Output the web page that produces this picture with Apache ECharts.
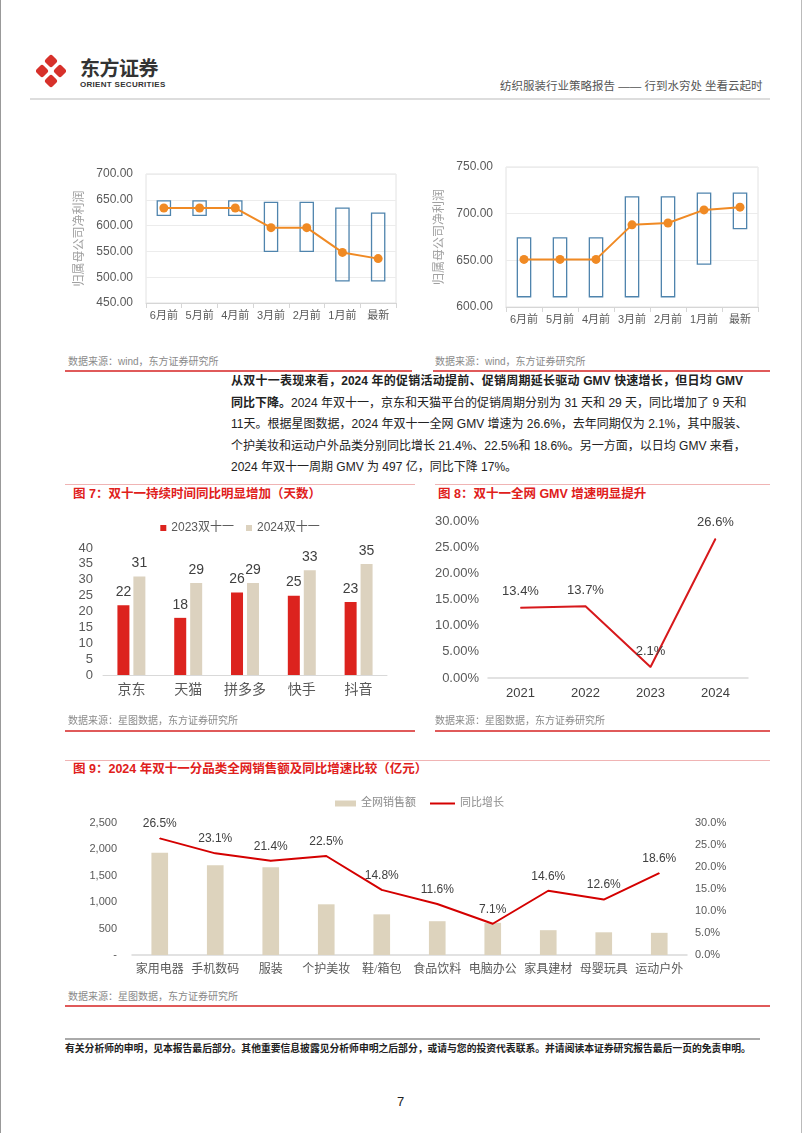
<!DOCTYPE html>
<html><head><meta charset="utf-8">
<script src="https://cdn.jsdelivr.net/npm/echarts@6/dist/echarts.min.js"></script>
<style>
html,body{margin:0;padding:0;background:#fff;}
body{width:802px;height:1133px;position:relative;overflow:hidden;font-family:"Liberation Sans","Noto Sans CJK SC",sans-serif;}
.t{position:absolute;white-space:nowrap;}
.ln{position:absolute;}
.ch{position:absolute;}
.src{font-size:10px;color:#8a8a8a;line-height:12px;}
.ttl{font-size:12.5px;color:#e0201b;font-weight:bold;line-height:15px;}
.para{position:absolute;left:231px;top:371px;width:512px;font-size:12px;line-height:21.5px;color:#222;}
.para div{white-space:nowrap;text-align:justify;text-align-last:justify;}
.para div.last{text-align-last:left;}
</style></head>
<body>
<div class="ln" style="left:0;top:0;width:1px;height:1133px;background:#999"></div>
<div class="ln" style="left:801px;top:0;width:1px;height:1133px;background:#bbb"></div>
<svg style="position:absolute;left:36px;top:54px" width="30" height="34" viewBox="0 0 30 34">
  <g fill="#d7312b">
    <rect x="10" y="2" width="10" height="10" rx="2.5" transform="rotate(45 15 7)"/>
    <rect x="10" y="22" width="10" height="10" rx="2.5" transform="rotate(45 15 27)"/>
    <rect x="1" y="12" width="10" height="10" rx="2.5" transform="rotate(45 6 17)"/>
    <rect x="19" y="12" width="10" height="10" rx="2.5" transform="rotate(45 24 17)"/>
  </g>
</svg>
<div class="t" style="left:80px;top:56px;font-size:20px;line-height:26px;font-weight:bold;color:#333;letter-spacing:-0.5px">东方证券</div>
<div class="t" style="left:80px;top:80px;font-size:8px;line-height:10px;font-weight:bold;color:#333;letter-spacing:0.3px">ORIENT SECURITIES</div>
<div class="t" style="left:500px;top:79px;font-size:11.5px;line-height:14px;color:#555">纺织服装行业策略报告 —— 行到水穷处 坐看云起时</div>
<div class="ln" style="left:30px;top:98px;width:740px;height:1.5px;background:#ddd"></div>

<div id="c1" class="ch" style="left:60px;top:150px;width:350px;height:180px"></div>
<div id="c2" class="ch" style="left:420px;top:150px;width:360px;height:180px"></div>
<div class="t src" style="left:68px;top:356px">数据来源：wind，东方证券研究所</div>
<div class="t src" style="left:435px;top:356px">数据来源：wind，东方证券研究所</div>
<div class="ln" style="left:65px;top:370px;width:347px;height:1.5px;background:#e05a5a"></div>
<div class="ln" style="left:433px;top:370px;width:337px;height:1.5px;background:#e05a5a"></div>

<div class="para">
<div><b>从双十一表现来看，2024 年的促销活动提前、促销周期延长驱动 GMV 快速增长，但日均 GMV</b></div>
<div><b>同比下降。</b>2024 年双十一，京东和天猫平台的促销周期分别为 31 天和 29 天，同比增加了 9 天和</div>
<div>11天。根据星图数据，2024 年双十一全网 GMV 增速为 26.6%，去年同期仅为 2.1%，其中服装、</div>
<div>个护美妆和运动户外品类分别同比增长 21.4%、22.5%和 18.6%。另一方面，以日均 GMV 来看，</div>
<div class="last">2024 年双十一周期 GMV 为 497 亿，同比下降 17%。</div>
</div>

<div class="ln" style="left:65px;top:484px;width:350px;height:1px;background:#f0b4b4"></div>
<div class="ln" style="left:435px;top:484px;width:335px;height:1px;background:#f0b4b4"></div>
<div class="t ttl" style="left:73px;top:487px">图 7：双十一持续时间同比明显增加（天数）</div>
<div class="t ttl" style="left:438px;top:487px">图 8：双十一全网 GMV 增速明显提升</div>

<div id="c7" class="ch" style="left:60px;top:510px;width:360px;height:205px"></div>
<div id="c8" class="ch" style="left:420px;top:505px;width:360px;height:210px"></div>
<div class="t src" style="left:68px;top:715px">数据来源：星图数据，东方证券研究所</div>
<div class="t src" style="left:435px;top:715px">数据来源：星图数据，东方证券研究所</div>
<div class="ln" style="left:65px;top:730px;width:350px;height:1.5px;background:#e05a5a"></div>
<div class="ln" style="left:435px;top:730px;width:335px;height:1.5px;background:#e05a5a"></div>

<div class="ln" style="left:65px;top:760px;width:705px;height:1px;background:#f0b4b4"></div>
<div class="t ttl" style="left:73px;top:762px">图 9：2024 年双十一分品类全网销售额及同比增速比较（亿元）</div>
<div id="c9" class="ch" style="left:60px;top:780px;width:720px;height:210px"></div>
<div class="t src" style="left:68px;top:991px">数据来源：星图数据，东方证券研究所</div>
<div class="ln" style="left:65px;top:1005px;width:705px;height:1.5px;background:#e05a5a"></div>

<div class="ln" style="left:65px;top:1038px;width:695px;height:2px;background:#aaa"></div>
<div class="t" style="left:65px;top:1043px;font-size:9.8px;line-height:12px;font-weight:bold;color:#222">有关分析师的申明，见本报告最后部分。其他重要信息披露见分析师申明之后部分，或请与您的投资代表联系。并请阅读本证券研究报告最后一页的免责申明。</div>
<div class="t" style="left:397px;top:1094px;font-size:13px;line-height:16px;color:#222">7</div>

<script>
// ---- Data ----
const periods = ['6月前','5月前','4月前','3月前','2月前','1月前','最新'];
const low1  = [620,620,620,550,550,493,493];
const high1 = [648,648,648,645,645,634,624];
const mean1 = [634,634,634,596,596,548,536];
const low2  = [611,611,611,611,611,646,684];
const high2 = [674,674,674,718,718,722,722];
const mean2 = [651,651,651,688,690,704,707];

const platforms = ['京东','天猫','拼多多','快手','抖音'];
const days2023 = [22,18,26,25,23];
const days2024 = [31,29,29,33,35];

const years = ['2021','2022','2023','2024'];
const gmvGrowth = [13.4,13.7,2.1,26.6];

const cats9 = ['家用电器','手机数码','服装','个护美妆','鞋/箱包','食品饮料','电脑办公','家具建材','母婴玩具','运动户外'];
const sales9 = [1935,1700,1660,960,770,640,610,470,430,420];
const yoy9 = [26.5,23.1,21.4,22.5,14.8,11.6,7.1,14.6,12.6,18.6];

const FONT = '"Liberation Sans","Noto Sans CJK SC",sans-serif';
const SERIF = '"Liberation Serif","Noto Sans CJK SC",serif';

function boxChart(id, low, high, mean, ymin, ymax, grid, nameGap, labelMargin){
  const c = echarts.init(document.getElementById(id));
  c.setOption({
    animation:false,
    grid: Object.assign({show:true, borderColor:'#e2e2e2', borderWidth:1}, grid),
    xAxis:{type:'category', data:periods, boundaryGap:true,
      axisLine:{show:true, lineStyle:{color:'#d6d6d6'}},
      axisTick:{show:true, length:5, interval:0, lineStyle:{color:'#d6d6d6'}},
      axisLabel:{color:'#595959', fontSize:11, margin:7, interval:0, fontFamily:FONT}},
    yAxis:{type:'value', min:ymin, max:ymax, interval:50,
      name:'归属母公司净利润', nameLocation:'middle', nameRotate:90, nameGap:nameGap,
      nameTextStyle:{color:'#a0a0a0', fontSize:12, fontFamily:FONT},
      axisLine:{show:false}, axisTick:{show:false},
      splitLine:{lineStyle:{color:'#ececec'}},
      axisLabel:{color:'#595959', fontSize:12, margin:labelMargin, fontFamily:FONT,
        formatter:v=>v.toFixed(2)}},
    series:[
      {type:'custom', data: periods.map((p,i)=>[i, low[i], high[i]]),
        encode:{x:0, y:[1,2]},
        renderItem:function(params, api){
          const x = api.value(0);
          const lo = api.coord([x, api.value(1)]);
          const hi = api.coord([x, api.value(2)]);
          const w = api.size([1,0])[0]*0.37;
          return {type:'rect', shape:{x:lo[0]-w/2, y:hi[1], width:w, height:lo[1]-hi[1]},
            style:{fill:'none', stroke:'#4f84ad', lineWidth:1.3}};
        }, z:2},
      {type:'line', data:mean, symbol:'circle', symbolSize:9,
        lineStyle:{color:'#f08a24', width:2}, itemStyle:{color:'#f08a24'}, z:5}
    ]
  });
}
boxChart('c1', low1, high1, mean1, 450, 700, {left:86, top:24, width:250, height:129}, 56, 13);
boxChart('c2', low2, high2, mean2, 600, 750, {left:86, top:17, width:252, height:140}, 59, 13);

// Fig 7
echarts.init(document.getElementById('c7')).setOption({
  animation:false,
  legend:{top:7, left:'center', itemWidth:6, itemHeight:6, itemGap:12, icon:'rect',
    textStyle:{color:'#595959', fontSize:12, fontFamily:FONT}},
  grid:{left:43, top:38, width:284, height:127},
  xAxis:{type:'category', data:platforms,
    axisLine:{lineStyle:{color:'#d9d9d9'}}, axisTick:{show:false},
    axisLabel:{color:'#595959', fontSize:14, margin:8, fontFamily:SERIF}},
  yAxis:{type:'value', min:0, max:40, interval:5,
    axisLine:{show:false}, axisTick:{show:false}, splitLine:{show:false},
    axisLabel:{color:'#595959', fontSize:13, margin:10, fontFamily:FONT}},
  series:[
    {name:'2023双十一', type:'bar', data:days2023, barWidth:12, barGap:'33%',
      itemStyle:{color:'#dc231e'},
      label:{show:true, position:'top', distance:6, color:'#404040', fontSize:14, fontFamily:FONT}},
    {name:'2024双十一', type:'bar', data:days2024, barWidth:12,
      itemStyle:{color:'#dcd2bf'},
      label:{show:true, position:'top', distance:6, color:'#404040', fontSize:14, fontFamily:FONT}}
  ]
});

// Fig 8
echarts.init(document.getElementById('c8')).setOption({
  animation:false,
  grid:{left:68, top:16, width:260, height:157},
  xAxis:{type:'category', data:years, boundaryGap:true,
    axisLine:{lineStyle:{color:'#d9d9d9', width:1.5}}, axisTick:{show:false},
    axisLabel:{color:'#404040', fontSize:13, margin:9, fontFamily:FONT}},
  yAxis:{type:'value', min:0, max:30, interval:5,
    axisLine:{show:false}, axisTick:{show:false}, splitLine:{show:false},
    axisLabel:{color:'#595959', fontSize:13, margin:9, fontFamily:FONT, formatter:v=>v.toFixed(2)+'%'}},
  series:[{type:'line', data:gmvGrowth, symbol:'circle', symbolSize:1, showSymbol:true,
    lineStyle:{color:'#d7191c', width:2}, itemStyle:{color:'#d7191c'},
    label:{show:true, position:'top', distance:9, color:'#404040', fontSize:13, fontFamily:FONT,
      formatter:p=>p.value.toFixed(1)+'%'}}]
});

// Fig 9
echarts.init(document.getElementById('c9')).setOption({
  animation:false,
  legend:[
    {top:13, left:270, itemWidth:21, itemHeight:6, icon:'rect',
      textStyle:{color:'#8c8c8c', fontSize:11, fontFamily:SERIF}, data:['全网销售额']},
    {top:13, left:365, itemWidth:25, itemHeight:2, icon:'rect',
      textStyle:{color:'#8c8c8c', fontSize:11, fontFamily:SERIF}, data:['同比增长']}
  ],
  grid:{left:72, top:43, width:555, height:132},
  xAxis:{type:'category', data:cats9,
    axisLine:{lineStyle:{color:'#d9d9d9', width:1.5}}, axisTick:{show:false},
    axisLabel:{color:'#595959', fontSize:12, margin:9, fontFamily:SERIF, interval:0}},
  yAxis:[
    {type:'value', min:0, max:2500, interval:500,
      axisLine:{show:false}, axisTick:{show:false}, splitLine:{show:false},
      axisLabel:{color:'#595959', fontSize:11, margin:15, fontFamily:FONT,
        formatter:v=>v===0?'-':v.toLocaleString('en-US')}},
    {type:'value', min:0, max:30, interval:5, position:'right',
      axisLine:{show:false}, axisTick:{show:false}, splitLine:{show:false},
      axisLabel:{color:'#595959', fontSize:11, margin:8, fontFamily:FONT,
        formatter:v=>v.toFixed(1)+'%'}}
  ],
  series:[
    {name:'全网销售额', type:'bar', data:sales9, barWidth:'30%', itemStyle:{color:'#ddd3bd'}},
    {name:'同比增长', type:'line', yAxisIndex:1, data:yoy9, symbol:'circle', symbolSize:1, showSymbol:true,
      lineStyle:{color:'#d40000', width:2}, itemStyle:{color:'#d40000'},
      label:{show:true, position:'top', distance:8, color:'#404040', fontSize:12, fontFamily:FONT,
        formatter:p=>p.value.toFixed(1)+'%'}}
  ]
});
</script>
</body></html>
